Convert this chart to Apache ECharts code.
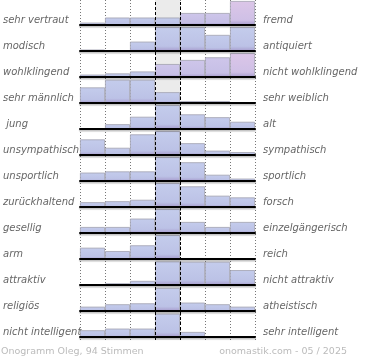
<!DOCTYPE html>
<html><head><meta charset="utf-8">
<script src="https://cdn.jsdelivr.net/npm/echarts@6/dist/echarts.min.js"></script>
<style>html,body{margin:0;padding:0;background:#fff}#c{width:370px;height:360px}</style>
</head><body><div id="c"></div>
<script>
// ---- data ----
const leftLabels = ['sehr vertraut','modisch','wohlklingend','sehr männlich',' jung','unsympathisch','unsportlich','zurückhaltend','gesellig','arm','attraktiv','religiös','nicht intelligent'];
const rightLabels = ['fremd','antiquiert','nicht wohlklingend','sehr weiblich','alt','sympathisch','sportlich','forsch','einzelgängerisch','reich','nicht attraktiv','atheistisch','sehr intelligent'];
const scaleSteps = ['1','2','3','4','5','6','7'];
// relative bar heights per row (100 = tallest)
const rowVertraut     = [10, 31, 31, 31, 50, 50, 100];
const rowModisch      = [6, 0, 39, 100, 100, 67, 100];
const rowWohlklingend = [10, 15, 23, 54, 71, 82, 100];
const rowMaennlich    = [65, 97, 97, 45, 8, 8, 0];
const rowJung         = [0, 20, 51, 100, 61, 49, 30];
const rowSympathisch  = [65, 30, 86, 100, 49, 18, 12];
const rowSportlich    = [35, 40, 40, 100, 78, 26, 10];
const rowForsch       = [20, 24, 30, 100, 86, 47, 40];
const rowGesellig     = [25, 25, 60, 100, 46, 25, 46];
const rowArm          = [47, 33, 57, 100, 4, 4, 0];
const rowAttraktiv    = [0, 7, 17, 98, 97, 97, 62];
const rowReligioes    = [18, 28, 32, 96, 35, 28, 18];
const rowIntelligent  = [28, 35, 35, 97, 21, 0, 0];
const footerLeft = 'Onogramm Oleg, 94 Stimmen';
const footerRight = 'onomastik.com - 05 / 2025';

const rows = [rowVertraut,rowModisch,rowWohlklingend,rowMaennlich,rowJung,rowSympathisch,rowSportlich,rowForsch,rowGesellig,rowArm,rowAttraktiv,rowReligioes,rowIntelligent];

// ---- styles ----
const PL = 80, PW = 175, RH = 26, BH = 24;
const tint = {0:{4:'lav',5:'lav',6:'pink'}, 2:{3:'lav',4:'lav',5:'lav',6:'pink'}};
const tones = {
  blue:{top:'#c4ccec', mid:'#bcc2e6', bot:'#a79ccd'},
  lav: {top:'#cec6ea', mid:'#c6bfe6', bot:'#a79ccd'},
  pink:{top:'#dcc6e8', mid:'#cfc0e6', bot:'#a79ccd'}
};
function colorFor(r, c){
  const t = tones[(tint[r] && tint[r][c]) || 'blue'];
  return new echarts.graphic.LinearGradient(0,0,0,1,[
    {offset:0,color:t.top},{offset:0.8,color:t.mid},{offset:1,color:t.bot}]);
}
const FONT = 'DejaVu Sans';

const grid = [
  {left:PL, width:PW, top:0, height:340},
  {left:PL, width:PW, top:7, height:RH*13}
];
const xAxis = [
  {gridIndex:0, type:'value', min:0, max:7, interval:1, axisLine:{show:false}, axisTick:{show:false}, axisLabel:{show:false},
   splitLine:{show:true, lineStyle:{type:[1,2], color:'#777', width:1}}},
  {gridIndex:1, type:'value', show:false}
];
const yAxis = [
  {gridIndex:0, type:'value', min:0, max:1, show:false},
  {gridIndex:1, type:'category', data:leftLabels, inverse:true, position:'left',
   axisLine:{show:false}, axisTick:{show:false}, splitLine:{show:false},
   axisLabel:{align:'left', margin:PL + 2, color:'#666', fontSize:10, fontStyle:'italic', fontFamily:FONT}},
  {gridIndex:1, type:'category', data:rightLabels, inverse:true, position:'right',
   axisLine:{show:false}, axisTick:{show:false}, splitLine:{show:false},
   axisLabel:{align:'left', margin:8, color:'#666', fontSize:10, fontStyle:'italic', fontFamily:FONT}}
];
const series = [{
  type:'line', xAxisIndex:0, yAxisIndex:0, data:[[0,0]], symbol:'none', lineStyle:{opacity:0}, silent:true,
  markArea:{silent:true, itemStyle:{color:'#ebebeb'}, data:[[{xAxis:3},{xAxis:4}]]},
  markLine:{silent:true, symbol:'none', label:{show:false}, lineStyle:{type:[3,2], color:'#000', width:1}, data:[{xAxis:3},{xAxis:4}]}
}];
rows.forEach((vals, r) => {
  grid.push({left:PL, width:PW, top:1 + r*RH, height:BH});
  xAxis.push({gridIndex:r+2, type:'category', data:scaleSteps, z:6,
    axisTick:{show:false}, axisLabel:{show:false}, splitLine:{show:false},
    axisLine:{show:true, lineStyle:{color:'#000', width:2, shadowColor:'rgba(0,0,0,0.25)', shadowOffsetY:1.5, shadowBlur:1}}});
  yAxis.push({gridIndex:r+2, type:'value', min:0, max:100, show:false});
  series.push({type:'bar', xAxisIndex:r+2, yAxisIndex:r+3, barCategoryGap:'0%', silent:true,
    itemStyle:{borderColor:'#a2a2b0', borderWidth:0.8},
    data: vals.map((v,c)=>({value:v, itemStyle:{color:colorFor(r,c)}}))});
});

const chart = echarts.init(document.getElementById('c'), null, {renderer:'canvas'});
chart.setOption({
  animation:false,
  title:[
    {text:footerLeft, left:1, top:347, padding:0, textStyle:{fontSize:9.5, color:'#bbb', fontWeight:'normal', fontFamily:FONT}},
    {text:footerRight, right:23, top:347, padding:0, textStyle:{fontSize:9.5, color:'#bbb', fontWeight:'normal', fontFamily:FONT}}
  ],
  grid, xAxis, yAxis, series
});
</script></body></html>
